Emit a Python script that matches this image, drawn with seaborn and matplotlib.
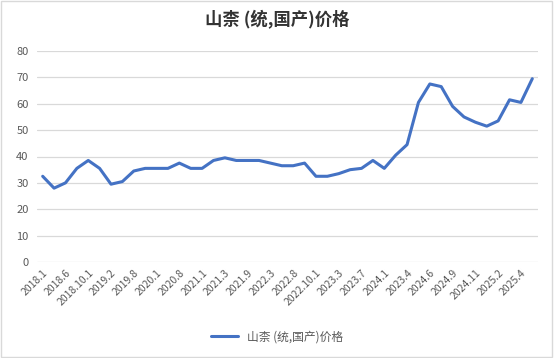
import numpy as np
import pandas as pd
import seaborn as sns
import matplotlib.pyplot as plt
from matplotlib.patches import Rectangle

# 数据（从图中读取，44 个点，每隔一个点标注一次日期）
tick_labels = ['2018.1', '2018.6', '2018.10.1', '2019.2', '2019.8', '2020.1', '2020.8',
               '2021.1', '2021.3', '2021.9', '2022.3', '2022.8', '2022.10.1', '2023.3',
               '2023.7', '2024.1', '2023.4', '2024.6', '2024.9', '2024.11', '2025.2', '2025.4']
prices = [32.5, 28, 30, 35.5, 38.5, 35.5, 29.5, 30.5, 34.5, 35.5, 35.5, 35.5, 37.5, 35.5,
          35.5, 38.5, 39.5, 38.5, 38.5, 38.5, 37.5, 36.5, 36.5, 37.5, 32.5, 32.5, 33.5, 35,
          35.5, 38.5, 35.5, 40.5, 44.5, 60.5, 67.5, 66.5, 59, 55, 53, 51.5, 53.5, 61.5, 60.5, 69.5]
series_name = '山柰 (统,国产)价格'

df = pd.DataFrame({'idx': np.arange(len(prices)), 'price': prices})

sns.set_theme(style='white')
plt.rcParams['font.family'] = ['Noto Sans CJK SC', 'DejaVu Sans']

fig = plt.figure(figsize=(5.54, 3.58), dpi=100)
ax = fig.add_axes([37 / 554, 1 - 262 / 358, (538 - 37) / 554, (262 - 51) / 358])

sns.lineplot(data=df, x='idx', y='price', ax=ax, color='#4472C4', linewidth=2.2,
             label=series_name, legend=False)

ax.set_xlim(-0.5, len(prices) - 0.5)
ax.set_ylim(0, 80)
ax.set_yticks(range(0, 81, 10))
ax.set_xticks(range(0, len(prices), 2))
ax.set_xticklabels(tick_labels, rotation=45, ha='right', rotation_mode='anchor')
ax.tick_params(axis='x', labelsize=7.5, colors='#595959', length=0, pad=4)
ax.tick_params(axis='y', labelsize=8, colors='#595959', length=0, pad=6)
ax.grid(axis='y', color='#D9D9D9', linewidth=0.9)
ax.set_axisbelow(True)
for s in ax.spines.values():
    s.set_visible(False)
ax.set_xlabel('')
ax.set_ylabel('')

fig.text(0.5, 1 - 20 / 358, series_name, ha='center', va='center',
         fontsize=12.5, fontweight='bold', color='#333333')

handles, labels = ax.get_legend_handles_labels()
fig.legend(handles, labels, loc='center', bbox_to_anchor=(0.5, 1 - 337 / 358),
           frameon=False, fontsize=8.5, labelcolor='#595959', handlelength=2.3)

fig.patches.append(Rectangle((0.002, 0.003), 0.995, 0.994, transform=fig.transFigure,
                             fill=False, edgecolor='#D9D9D9', linewidth=1))

fig.savefig('out.png', dpi=100)
